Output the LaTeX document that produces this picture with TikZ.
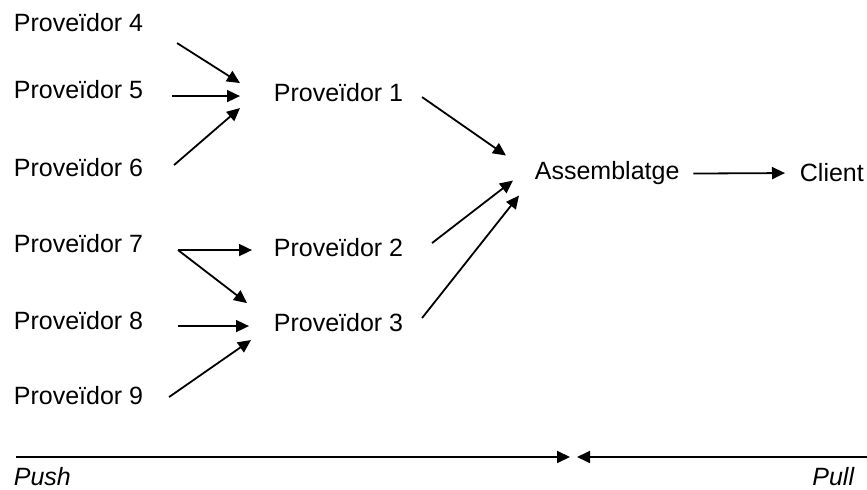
\documentclass[tikz,border=0pt]{standalone}
\usepackage{fontspec}
\setmainfont{Liberation Sans}
\usepackage{tikz}
\usetikzlibrary{positioning}
\usetikzlibrary{calc}
\usetikzlibrary{arrows.meta}

\begin{document}
\begin{tikzpicture}[x=0.5pt, y=-0.5pt, ->, line width=0.9pt, every node/.style={inner sep=0, anchor=base west, font=\fontsize{12.5}{15}\selectfont}]
		\tikzset{>={Triangle[length=6.5pt, width=6pt]}}
		\useasboundingbox (0,0) rectangle (867,490);

		\node (4prov) at (13,32) {Proveïdor 4};
		\node (5prov) at (13,99) {Proveïdor 5};
		\node (6prov) at (13,177) {Proveïdor 6};
		\node (7prov) at (13,253) {Proveïdor 7};
		\node (8prov) at (13,330) {Proveïdor 8};
		\node (9prov) at (13,405) {Proveïdor 9};

		\node (1prov) at (273,102) {Proveïdor 1};
		\node (2prov) at (273,257) {Proveïdor 2};
		\node (3prov) at (273,332) {Proveïdor 3};

		\node (assem) at (534,180) {Assemblatge};
		\node (client) at (799,182) {Client};

		% proveidors 4-6 cap al 1
		\path ($(4prov.east)+(33,20)$) edge ($(1prov.west)+(-33,-10)$);
		\path ($(5prov.east)+(28,6)$) edge ($(1prov.west)+(-33,3)$);
		\path ($(6prov.east)+(30,-3)$) edge ($(1prov.west)+(-33,15)$);

		% proveidors 7-9
		\path ($(7prov.east)+(34,6)$) edge ($(2prov.west)+(-21,2)$);
		\path ($(7prov.east)+(34,6)$) edge ($(3prov.west)+(-26,-20)$);
		\path ($(8prov.east)+(34,5)$) edge ($(3prov.west)+(-24,3)$);
		\path ($(9prov.east)+(25,1)$) edge ($(3prov.west)+(-22,17)$);

		% cap a l'assemblatge
		\path ($(1prov.east)+(18,4)$) edge ($(assem.west)+(-28,-18)$);
		\path ($(2prov.east)+(28,-5)$) edge ($(assem.west)+(-21,7)$);
		\path ($(3prov.east)+(18,-5)$) edge ($(assem.west)+(-15,22)$);
		\path ($(assem.east)+(13,0)$) edge ($(client.west)+(-14,0)$);

		% push / pull
		\coordinate (pushstart) at (16,457);
		\coordinate (pushend) at (570,457);
		\coordinate (pullstart) at (867,457);
		\coordinate (pullend) at (577,457);
		\draw (pushstart) -- (pushend);
		\draw (pullstart) -- (pullend);
		\node[font=\fontsize{12.5}{15}\selectfont\itshape] (push) at (13,486) {Push};
		\node[font=\fontsize{12.5}{15}\selectfont\itshape, anchor=base east] (pull) at (855,486) {Pull};

	\end{tikzpicture}
\end{document}
